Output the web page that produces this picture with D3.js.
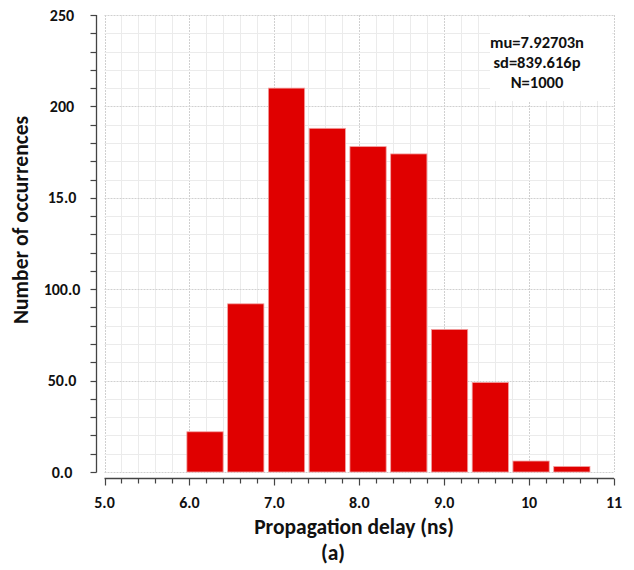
<!DOCTYPE html>
<html>
<head>
<meta charset="utf-8">
<script src="https://cdn.jsdelivr.net/npm/d3@7"></script>
<style>
  body { margin: 0; background: #fff; }
  svg text { font-family: Carlito, Lato, "Open Sans", sans-serif; font-weight: bold; fill: #111; }
</style>
</head>
<body>
<div id="chart"></div>
<script>
// histogram bins (ns) and counts
var binLo = [5.97, 6.45, 6.93, 7.41, 7.89, 8.37, 8.85, 9.33, 9.81, 10.29];
var binWidth = 0.48;
var counts = [22, 92, 210, 188, 178, 174, 78, 49, 6, 3];

// tick values + the labels as printed in the figure
var xTicks = [5, 6, 7, 8, 9, 10, 11];
var xTickLabels = ["5.0", "6.0", "7.0", "8.0", "9.0", "10", "11"];
var yTicks = [0, 50, 100, 150, 200, 250];
var yTickLabels = ["0.0", "50.0", "100.0", "15.0", "200", "250"];

var statsLines = ["mu=7.92703n", "sd=839.616p", "N=1000"];

var width = 634, height = 570;
var plotLeft = 104.5, plotRight = 614, plotTop = 15, plotBottom = 472;

var svg = d3.select("#chart").append("svg")
  .attr("width", width)
  .attr("height", height);

var x = d3.scaleLinear().domain([5, 11]).range([plotLeft, plotRight]);
var y = d3.scaleLinear().domain([0, 250]).range([plotBottom, plotTop]);

//------grid-----------------
var grid = svg.append("g");
grid.selectAll(".vminor")
  .data(d3.range(0, 31).map(function(i) { return 5 + i * 0.2; }))
  .enter().append("line")
  .attr("x1", function(d) { return Math.round(x(d)) + 0.5; })
  .attr("x2", function(d) { return Math.round(x(d)) + 0.5; })
  .attr("y1", plotTop).attr("y2", plotBottom)
  .style("stroke", function(d, i) { return i % 5 == 0 ? "#d0d0d0" : "#ebebeb"; })
  .style("stroke-dasharray", function(d, i) { return i % 5 == 0 ? "2,1" : null; });

grid.selectAll(".hminor")
  .data(d3.range(0, 26).map(function(i) { return i * 10; }))
  .enter().append("line")
  .attr("x1", plotLeft).attr("x2", plotRight)
  .attr("y1", function(d) { return Math.round(y(d)) + 0.5; })
  .attr("y2", function(d) { return Math.round(y(d)) + 0.5; })
  .style("stroke", function(d, i) { return i % 5 == 0 ? "#d0d0d0" : "#ebebeb"; })
  .style("stroke-dasharray", function(d, i) { return i % 5 == 0 ? "2,1" : null; });

//------stats box-----------------
svg.append("rect")
  .attr("x", 490).attr("y", 17)
  .attr("width", 122).attr("height", 84)
  .style("fill", "#fff");

svg.selectAll(".stat")
  .data(statsLines)
  .enter().append("text")
  .attr("x", 537)
  .attr("y", function(d, i) { return 48 + i * 20; })
  .attr("text-anchor", "middle")
  .style("font-size", "16.5px")
  .text(function(d) { return d; });

//------bars-----------------
svg.selectAll(".bar")
  .data(counts)
  .enter().append("rect")
  .attr("x", function(d, i) { return x(binLo[i]); })
  .attr("width", function(d, i) { return x(binLo[i] + binWidth) - x(binLo[i]) - 4.5; })
  .attr("y", function(d) { return y(d); })
  .attr("height", function(d) { return y(0) - y(d); })
  .style("fill", "#e00000")
  .style("stroke", "#f2a0a0")
  .style("stroke-width", 0.8);

//------axes-----------------
var axisColor = "#444";

var yAxis = svg.append("g").attr("transform", "translate(96.5,0)");
yAxis.append("line")
  .attr("x1", 0).attr("x2", 0)
  .attr("y1", y(250)).attr("y2", y(0) + 0.5)
  .style("stroke", axisColor).style("stroke-width", 1.3);
yAxis.selectAll(".ytick")
  .data(d3.range(0, 26).map(function(i) { return i * 10; }))
  .enter().append("line")
  .attr("x1", -6).attr("x2", 0)
  .attr("y1", function(d) { return Math.round(y(d)) + 0.5; })
  .attr("y2", function(d) { return Math.round(y(d)) + 0.5; })
  .style("stroke", axisColor).style("stroke-width", 1.2);
svg.selectAll(".ylab")
  .data(yTicks)
  .enter().append("text")
  .attr("x", 62)
  .attr("y", function(d) { return y(d) + 5.5; })
  .attr("text-anchor", "middle")
  .style("font-size", "16px")
  .text(function(d, i) { return yTickLabels[i]; });

var xAxis = svg.append("g").attr("transform", "translate(0,478.5)");
xAxis.append("line")
  .attr("x1", x(5)).attr("x2", x(11))
  .style("stroke", axisColor).style("stroke-width", 1.3);
xAxis.selectAll(".xtick")
  .data(d3.range(0, 31).map(function(i) { return 5 + i * 0.2; }))
  .enter().append("line")
  .attr("x1", function(d) { return Math.round(x(d)) + 0.5; })
  .attr("x2", function(d) { return Math.round(x(d)) + 0.5; })
  .attr("y1", 0)
  .attr("y2", function(d, i) { return i % 5 == 0 ? 7 : 5; })
  .style("stroke", axisColor).style("stroke-width", 1.2);
svg.selectAll(".xlab")
  .data(xTicks)
  .enter().append("text")
  .attr("x", function(d) { return x(d); })
  .attr("y", 508)
  .attr("text-anchor", "middle")
  .style("font-size", "16px")
  .text(function(d, i) { return xTickLabels[i]; });

//------titles-----------------
svg.append("text")
  .attr("transform", "translate(28,220) rotate(-90)")
  .attr("text-anchor", "middle")
  .style("font-size", "21.5px")
  .text("Number of occurrences");

svg.append("text")
  .attr("x", 354).attr("y", 534)
  .attr("text-anchor", "middle")
  .style("font-size", "21.5px")
  .text("Propagation delay (ns)");

svg.append("text")
  .attr("x", 333).attr("y", 560)
  .attr("text-anchor", "middle")
  .style("font-size", "21.5px")
  .text("(a)");
</script>
</body>
</html>
